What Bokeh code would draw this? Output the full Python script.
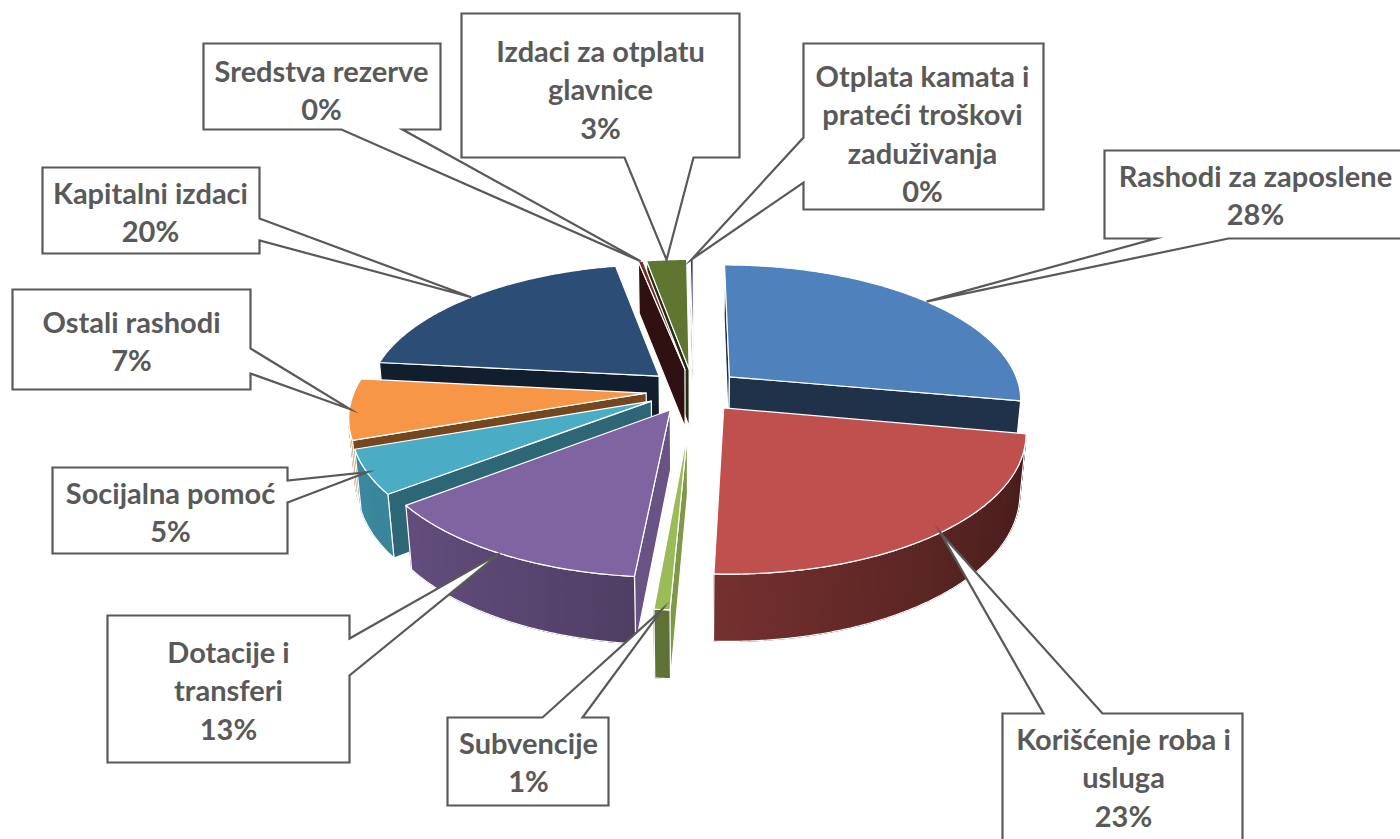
import numpy as np
from bokeh.plotting import figure
from bokeh.models import ColumnDataSource, Range1d
from bokeh.embed import file_html
from bokeh.resources import INLINE
from bokeh.core.properties import value

# ---------------- data ----------------
categories = [
    "Rashodi za zaposlene", "Korišćenje roba i usluga", "Subvencije",
    "Dotacije i transferi", "Socijalna pomoć", "Ostali rashodi",
    "Kapitalni izdaci", "Sredstva rezerve", "Izdaci za otplatu glavnice",
    "Otplata kamata i prateći troškovi zaduživanja",
]
shares = [27.9, 22.8, 0.7, 13.1, 5.1, 7.1, 20.2, 0.3, 2.6, 0.2]
label_lines = [
    ["Rashodi za zaposlene"], ["Korišćenje roba i", "usluga"], ["Subvencije"],
    ["Dotacije i", "transferi"], ["Socijalna pomoć"], ["Ostali rashodi"],
    ["Kapitalni izdaci"], ["Sredstva rezerve"], ["Izdaci za otplatu", "glavnice"],
    ["Otplata kamata i", "prateći troškovi", "zaduživanja"],
]
colors = ["#4F81BD", "#C0504D", "#9BBB59", "#8064A2", "#4BACC6",
          "#F79646", "#2C4D75", "#772C2A", "#5F7530", "#4D3B62"]

# ---------------- layout / style ----------------
# slice explosion (style)
explode = [0.029, 0.029, 0.054, 0.029, 0.029, 0.029, 0.029, 0.029, 0.029, 0.029]
# callout boxes: x0, y0, x1, y1, side of pointer, a, b, text centre x, first baseline
boxes = [
    (1104, 150, 1404, 238, "bottom", 1155, 1228, 1255, 175),
    (1002, 713, 1242, 845, "top", 1043, 1102, 1123, 738),
    (447, 717, 608, 805, "top", 542, 582, 528, 742),
    (107, 615, 349, 762, "right", 638, 675, 228, 651),
    (52, 467, 287, 553, "right", 480, 502, 170, 492),
    (12, 289, 250, 389, "right", 348, 373, 131, 321),
    (42, 167, 259, 253, "right", 218, 240, 150, 192),
    (203, 43, 440, 129, "bottom", 341, 402, 321, 70),
    (461, 13, 739, 157, "bottom", 624, 693, 600, 50),
    (803, 43, 1043, 209, "left", 137, 182, 922, 75),
]
LINE_H = 38.3

# ---------------- 3D projection ----------------
CX, CY = 693.0, 390.0
FOC = 1671.0
E = np.radians(26.7)
cosE, sinE = np.cos(E), np.sin(E)
R = 0.178
H = 0.040
SX = 0.98
CAM = np.array([0.0, cosE, sinE])


def proj(u, w, h):
    d = 1 - w * cosE - h * sinE
    return CX + SX * FOC * u / d, CY + FOC * (w * sinE - h * cosE) / d


def shade(hexc, f):
    hexc = hexc.lstrip("#")
    r, g, b = (int(hexc[i:i + 2], 16) for i in (0, 2, 4))
    return "#%02x%02x%02x" % tuple(int(max(0, min(255, round(c * f)))) for c in (r, g, b))


def wall_f(m):
    return 0.6 - 0.22 * np.sin(m)


total = float(sum(shares))
bounds = np.cumsum([0.0] + shares) / total * 2 * np.pi

slices = []
tips = []
for i, col in enumerate(colors):
    t0, t1 = bounds[i], bounds[i + 1]
    tm = 0.5 * (t0 + t1)
    ex = explode[i]
    ou, ow = ex * np.sin(tm), -ex * np.cos(tm)
    n = max(3, int(np.degrees(t1 - t0) * 2) + 2)
    th = np.linspace(t0, t1, n)
    ru = ou + R * np.sin(th)
    rw = ow - R * np.cos(th)
    polys = []
    # radial faces
    for ang, sgn in ((t0, -1.0), (t1, 1.0)):
        nrm = sgn * np.array([np.cos(ang), np.sin(ang), 0.0])
        apex = np.array([ou, ow, 0.0])
        if np.dot(nrm, CAM - apex) > 0:
            eu, ew = ou + R * np.sin(ang), ow - R * np.cos(ang)
            pts = [proj(ou, ow, 0), proj(eu, ew, 0), proj(eu, ew, -H), proj(ou, ow, -H)]
            f = 0.39 + 0.43 * max(0.0, nrm[0]) ** 1.5
            polys.append(([p[0] for p in pts], [p[1] for p in pts], shade(col, f), 1.0, "white", 1.2))
    # outer wall
    vis = []
    for k in range(n - 1):
        m = 0.5 * (th[k] + th[k + 1])
        pm = np.array([ou + R * np.sin(m), ow - R * np.cos(m), -H / 2])
        nrm = np.array([np.sin(m), -np.cos(m), 0.0])
        if np.dot(nrm, CAM - pm) > 0:
            vis.append(k)
    if vis:
        ks = list(range(vis[0], vis[-1] + 2))
        top = [proj(ru[k], rw[k], 0) for k in ks]
        bot = [proj(ru[k], rw[k], -H) for k in ks][::-1]
        pts = top + bot
        mid = 0.5 * (th[ks[0]] + th[ks[-1]])
        c = shade(col, wall_f(mid))
        polys.append(([p[0] for p in pts], [p[1] for p in pts], c, 1.0, c, 0.5))
        for k in vis:
            m = 0.5 * (th[k] + th[k + 1])
            k2 = min(k + 2, n - 1) if (k + 1) in vis else k + 1
            q = [proj(ru[k], rw[k], 0), proj(ru[k2], rw[k2], 0),
                 proj(ru[k2], rw[k2], -H), proj(ru[k], rw[k], -H)]
            c = shade(col, wall_f(m))
            polys.append(([p[0] for p in q], [p[1] for p in q], c, 1.0, c, 0.6))
        polys.append(([p[0] for p in pts], [p[1] for p in pts], "white", 0.0, "white", 1.2))
    # top face
    pts = [proj(ou, ow, 0)] + [proj(u, w, 0) for u, w in zip(ru, rw)]
    polys.append(([p[0] for p in pts], [p[1] for p in pts], col, 1.0, "white", 1.2))
    cen = np.array([ou + 0.5 * R * np.sin(tm), ow - 0.5 * R * np.cos(tm), -H / 2])
    dist = np.linalg.norm(CAM - cen)
    slices.append((dist, polys))
    tips.append(proj(ou + R * np.sin(tm), ow - R * np.cos(tm), 0))

slices.sort(key=lambda s: -s[0])
data = dict(xs=[], ys=[], fc=[], fa=[], lc=[], lw=[])
for _, polys in slices:
    for xs, ys, fc, fa, lc, lw in polys:
        data["xs"].append(list(xs)); data["ys"].append(list(ys))
        data["fc"].append(fc); data["fa"].append(fa)
        data["lc"].append(lc); data["lw"].append(lw)

p = figure(width=1400, height=839, x_range=Range1d(0, 1400), y_range=Range1d(839, 0),
           x_axis_type=None, y_axis_type=None, toolbar_location=None,
           output_backend="svg", min_border=0)
p.grid.visible = False
p.outline_line_color = None
p.background_fill_color = "white"
p.border_fill_color = "white"

p.patches("xs", "ys", source=ColumnDataSource(data), fill_color="fc", fill_alpha="fa",
          line_color="lc", line_width="lw", line_join="round")

# ---------------- callouts ----------------
cx_, cy_ = [], []
tx, ty, tt = [], [], []
for i, (x0, y0, x1, y1, side, a, b, tcx, base) in enumerate(boxes):
    tip = tips[i]
    if side == "top":
        pts = [(x0, y0), (a, y0), tip, (b, y0), (x1, y0), (x1, y1), (x0, y1)]
    elif side == "bottom":
        pts = [(x0, y0), (x1, y0), (x1, y1), (b, y1), tip, (a, y1), (x0, y1)]
    elif side == "right":
        pts = [(x0, y0), (x1, y0), (x1, a), tip, (x1, b), (x1, y1), (x0, y1)]
    else:
        pts = [(x0, y0), (x1, y0), (x1, y1), (x0, y1), (x0, b), tip, (x0, a)]
    cx_.append([q[0] for q in pts]); cy_.append([q[1] for q in pts])
    lines = label_lines[i] + ["%d%%" % int(round(shares[i] / total * 100))]
    for j, ln in enumerate(lines):
        tx.append(tcx); ty.append(base + j * LINE_H); tt.append(ln)

p.patches(cx_, cy_, fill_color="white", line_color="#595959", line_width=2.2, line_join="miter")
p.text(x=tx, y=ty, text=tt, text_font=value("Lato"), text_font_style="bold",
       text_font_size="29px", text_color="#595959", text_align="center",
       text_baseline="alphabetic")

open("out.html", "w").write(file_html(p, INLINE))
